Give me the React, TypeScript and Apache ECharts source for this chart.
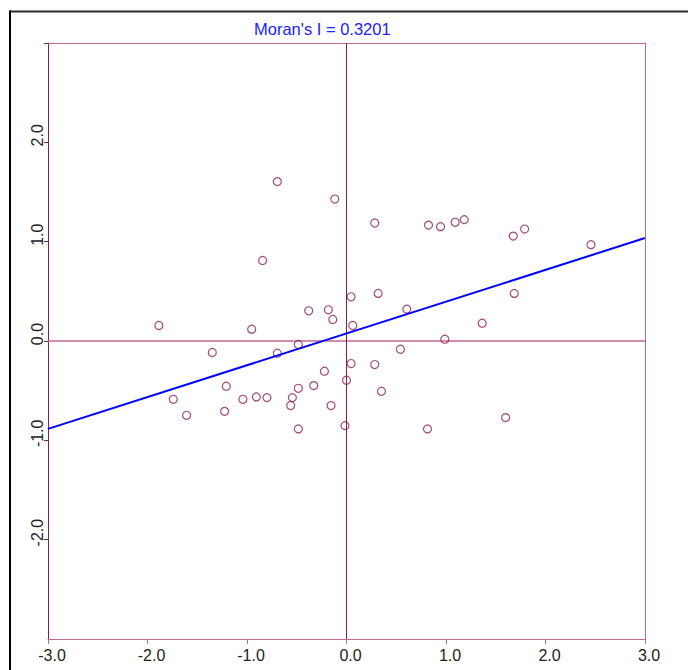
import React, { useEffect, useRef } from "react";
import * as echarts from "echarts";

// Standardised variable (x) and its spatial lag (y) for each area
const stdValues = [
  -0.695, -0.118, 0.284, -0.843, 0.046, 0.318, -0.38, -0.182, -0.138, -1.886,
  -0.953, 0.063, -0.484, -1.349, -0.695, 0.046, 0.284, -0.222, 0.0, -1.208,
  -0.329, -0.484, 0.351, -1.741, -1.041, -0.906, -0.799, -0.544, -0.561, -0.155,
  -1.607, -1.225, -0.484, -0.015, 0.824, 0.945, 1.092, 1.183, 1.676, 1.79,
  2.457, 1.686, 0.606, 1.364, 0.988, 0.542, 1.599, 0.814,
];
const spatialLag = [
  1.605, 1.429, 1.188, 0.811, 0.445, 0.479, 0.304, 0.314, 0.217, 0.156,
  0.119, 0.156, -0.035, -0.116, -0.123, -0.227, -0.237, -0.304, -0.395, -0.455,
  -0.449, -0.476, -0.506, -0.587, -0.587, -0.563, -0.57, -0.57, -0.65, -0.65,
  -0.748, -0.708, -0.885, -0.852, 1.167, 1.151, 1.195, 1.222, 1.056, 1.127,
  0.97, 0.479, 0.321, 0.179, 0.018, -0.083, -0.771, -0.885,
];

// Moran's I is the slope of the fitted line
const moransI = 0.3201;
const intercept = 0.076;
const axisRange = [-3, 3];
const yLabelTicks = [-2, -1, 0, 1, 2];
const yTickMarks = [-2, -1, 0, 1, 2, 3];

const MAROON = "#7d1f4f";
const PINK = "#c06896";
const POINT = "#8b1f55";
const FONT = "Liberation Sans";

export default function App() {
  const ref = useRef<HTMLDivElement>(null);

  useEffect(() => {
    if (!ref.current) return;
    const chart = echarts.init(ref.current, null, { renderer: "svg" });

    const points = stdValues.map((x, i) => [x, spatialLag[i]]);
    const fitLine = axisRange.map((x) => [x, moransI * x + intercept]);
    const xZeroLine = axisRange.map((y) => [0, y]);
    const yZeroLine = axisRange.map((x) => [x, 0]);

    chart.setOption({
      animation: false,
      backgroundColor: "#ffffff",
      title: {
        text: "Moran's I = " + moransI.toFixed(4),
        left: 249,
        top: 15,
        textStyle: {
          color: "#2222ff",
          fontSize: 16.5,
          fontWeight: "normal",
          fontFamily: FONT,
        },
      },
      grid: { left: 48, right: 43, top: 43, bottom: 31 },
      xAxis: [
        {
          type: "value",
          min: axisRange[0],
          max: axisRange[1],
          interval: 1,
          position: "bottom",
          axisLine: { show: true, onZero: false, lineStyle: { color: PINK, width: 1 } },
          axisTick: { show: true, inside: false, length: 5, lineStyle: { color: PINK } },
          splitLine: { show: false },
          axisLabel: {
            margin: 8,
            color: "#222",
            fontSize: 16,
            fontFamily: FONT,
            padding: [0, 0, 0, 8],
            formatter: (v: number) => v.toFixed(1),
          },
        },
        {
          type: "value",
          min: axisRange[0],
          max: axisRange[1],
          position: "top",
          axisLine: { show: true, onZero: false, lineStyle: { color: PINK, width: 1 } },
          axisTick: { show: false },
          axisLabel: { show: false },
          splitLine: { show: false },
        },
      ],
      yAxis: [
        {
          type: "value",
          min: axisRange[0],
          max: axisRange[1],
          interval: 1,
          position: "left",
          axisLine: { show: true, onZero: false, lineStyle: { color: MAROON, width: 1 } },
          axisTick: {
            show: true,
            inside: false,
            length: 4,
            customValues: yTickMarks,
            lineStyle: { color: MAROON },
          },
          splitLine: { show: false },
          axisLabel: {
            rotate: 90,
            margin: 3,
            color: "#222",
            fontSize: 16,
            fontFamily: FONT,
            customValues: yLabelTicks,
            padding: [0, 0, 0, 14],
            formatter: (v: number) => v.toFixed(1),
          },
        },
        {
          type: "value",
          min: axisRange[0],
          max: axisRange[1],
          position: "right",
          axisLine: { show: true, onZero: false, lineStyle: { color: PINK, width: 1 } },
          axisTick: { show: false },
          axisLabel: { show: false },
          splitLine: { show: false },
        },
      ],
      graphic: [
        {
          type: "line",
          shape: { x1: 9, y1: 11.5, x2: 688, y2: 11.5 },
          style: { stroke: "#2a2a2a", lineWidth: 2 },
        },
        {
          type: "line",
          shape: { x1: 10, y1: 10.5, x2: 10, y2: 670 },
          style: { stroke: "#000", lineWidth: 2 },
        },
      ],
      series: [
        {
          type: "line",
          data: yZeroLine,
          symbol: "none",
          silent: true,
          z: 1,
          lineStyle: { color: PINK, width: 1.3 },
        },
        {
          type: "line",
          data: xZeroLine,
          symbol: "none",
          silent: true,
          z: 1,
          lineStyle: { color: MAROON, width: 1 },
        },
        {
          type: "scatter",
          data: points,
          symbol: "circle",
          symbolSize: 8,
          z: 2,
          itemStyle: { color: "rgba(255,255,255,0)", borderColor: POINT, borderWidth: 1.2 },
        },
        {
          type: "line",
          data: fitLine,
          symbol: "none",
          z: 3,
          lineStyle: { color: "#0000ff", width: 2 },
        },
      ],
    });

    return () => chart.dispose();
  }, []);

  return (
    <div
      ref={ref}
      style={{
        position: "fixed",
        left: 0,
        top: 0,
        width: 688,
        height: 670,
        background: "#fff",
      }}
    />
  );
}
